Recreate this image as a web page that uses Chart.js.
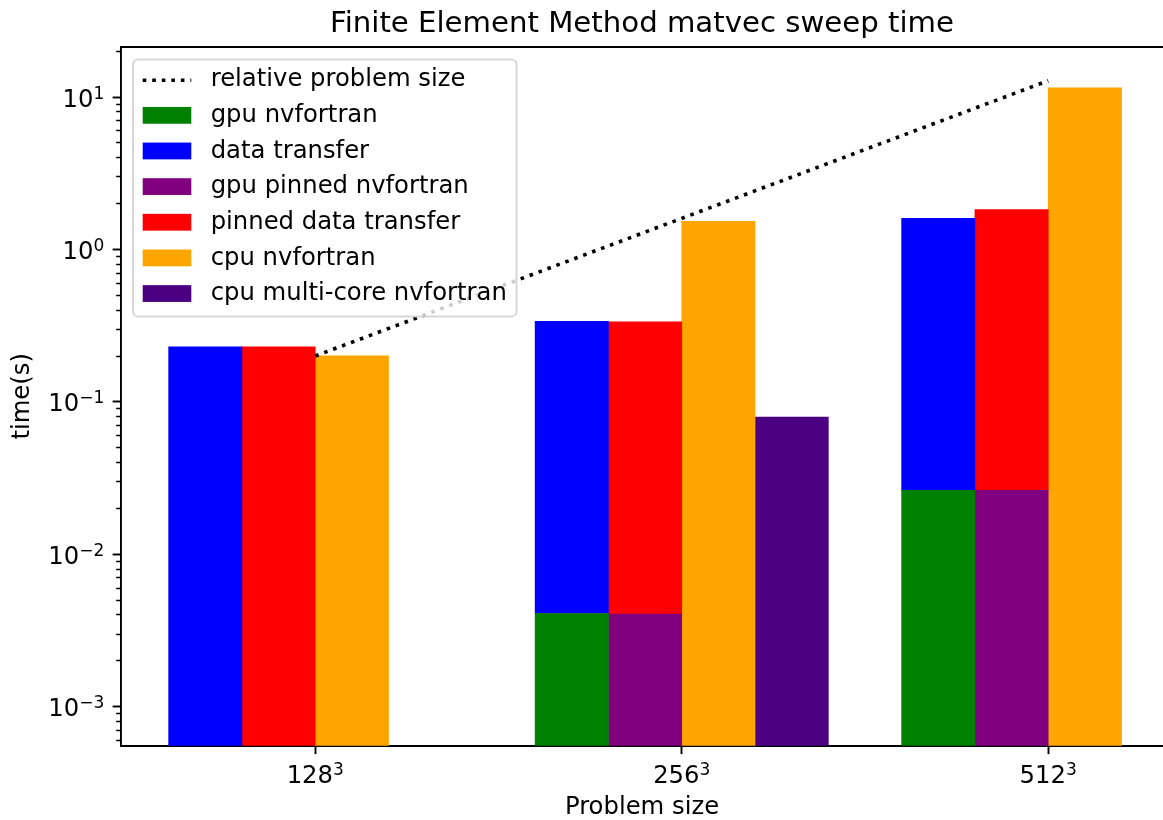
<!DOCTYPE html>
<html>
<head>
<meta charset="utf-8">
<title>FEM matvec sweep time</title>
<script src="https://cdn.jsdelivr.net/npm/chart.js@4.4.1/dist/chart.umd.min.js"></script>
<style>
  html, body { margin: 0; padding: 0; background: #fff; overflow: hidden; }
  canvas { display: block; }
</style>
</head>
<body>
<canvas id="chart" width="1163" height="820"></canvas>
<script>
// problem sizes along x; groups are 5 bar widths apart
const sizeLabels = ['128', '256', '512'];
const sizePowers = ['3', '3', '3'];
const sizePos = [0, 5, 10];

// sweep times in seconds, transfer bars are stacked on the gpu kernel time
const gpuTime = [null, 0.00409, 0.0263];
const transferTime = [0.2295, 0.334, 1.574];
const gpuPinnedTime = [null, 0.00405, 0.0263];
const pinnedTransferTime = [0.2295, 0.331, 1.804];
const cpuTime = [0.2003, 1.53, 11.5];
const cpuMultiCoreTime = [null, 0.0794, null];
const relativeSize = [0.2, 1.6, 12.8];

const yTickValues = [1e-3, 1e-2, 1e-1, 1, 10];
const yTickLabels = ['10', '10', '10', '10', '10'];
const yTickPowers = ['\u22123', '\u22122', '\u22121', '0', '1'];

const yMin = 5.55e-4;
const yMax = 21.3;
const xMin = -2.65;
const xMax = 11.566;

const FONT = 'DejaVu Sans';
const FS = 24.3;
Chart.defaults.font.family = FONT;
Chart.defaults.color = '#000';

function points(values, offset) {
  const out = [];
  values.forEach((v, i) => {
    if (v !== null) out.push({ x: sizePos[i] + offset, y: v });
  });
  return out;
}

// minor ticks 2..9 of every decade
const minorTicks = [];
for (let e = -4; e <= 1; e++) {
  for (let m = 2; m <= 9; m++) {
    const v = m * Math.pow(10, e);
    if (v > yMin && v < yMax) minorTicks.push(v);
  }
}

function bar(label, values, offset, color) {
  return {
    type: 'bar',
    label: label,
    data: points(values, offset),
    backgroundColor: color,
    borderWidth: 0,
    stack: 'all',
    categoryPercentage: 1,
    barPercentage: 1
  };
}

// base with a raised, smaller exponent, like 10^-2
function drawPower(ctx, base, power, x, y, align) {
  const big = FS + 'px "' + FONT + '"';
  const small = (FS * 0.7) + 'px "' + FONT + '"';
  ctx.font = big;
  const wb = ctx.measureText(base).width;
  ctx.font = small;
  const wp = ctx.measureText(power).width;
  let x0 = x;
  if (align === 'center') x0 = x - (wb + wp) / 2;
  if (align === 'right') x0 = x - wb - wp;
  ctx.textAlign = 'left';
  ctx.textBaseline = 'alphabetic';
  ctx.font = big;
  ctx.fillText(base, x0, y);
  ctx.font = small;
  ctx.fillText(power, x0 + wb, y - 7.9);
}

const powerTickLabels = {
  id: 'powerTickLabels',
  afterDraw(chart) {
    const { ctx } = chart;
    const xs = chart.scales.x;
    const ys = chart.scales.y;
    ctx.save();
    ctx.fillStyle = '#000';
    sizePos.forEach((v, i) => {
      drawPower(ctx, sizeLabels[i], sizePowers[i], xs.getPixelForValue(v), xs.top + 36.8, 'center');
    });
    yTickValues.forEach((v, i) => {
      drawPower(ctx, yTickLabels[i], yTickPowers[i], ys.right - 16.8, ys.getPixelForValue(v) + 9.5, 'right');
    });
    ctx.restore();
  }
};

// top spine plus a matplotlib-like legend inside the axes
const frameAndLegend = {
  id: 'frameAndLegend',
  afterDraw(chart) {
    const { ctx, chartArea } = chart;
    ctx.save();
    ctx.strokeStyle = '#000';
    ctx.lineWidth = 1.9;
    ctx.beginPath();
    ctx.moveTo(chartArea.left - 1, chartArea.top);
    ctx.lineTo(chartArea.right, chartArea.top);
    ctx.stroke();

    ctx.font = FS + 'px "' + FONT + '"';
    const sets = chart.data.datasets;
    const textW = Math.max(...sets.map(d => ctx.measureText(d.label).width));
    const pad = 9.7, handleW = 48.6, gap = 19.4, rowH = 35.64;
    const left = chartArea.left + 12;
    const top = chartArea.top + 12.5;
    const width = pad + handleW + gap + textW + pad;
    const height = pad * 2 + rowH * sets.length - 12;

    ctx.beginPath();
    ctx.roundRect(left, top, width, height, 5);
    ctx.fillStyle = 'rgba(255,255,255,0.8)';
    ctx.fill();
    ctx.lineWidth = 2;
    ctx.strokeStyle = 'rgba(204,204,204,0.8)';
    ctx.stroke();

    sets.forEach((d, k) => {
      const cy = top + 20.2 + k * rowH;
      const hx = left + pad;
      if (d.type === 'line') {
        ctx.save();
        ctx.strokeStyle = d.borderColor;
        ctx.lineWidth = d.borderWidth;
        ctx.setLineDash(d.borderDash);
        ctx.beginPath();
        ctx.moveTo(hx, cy + 0.5);
        ctx.lineTo(hx + handleW, cy + 0.5);
        ctx.stroke();
        ctx.restore();
      } else {
        ctx.fillStyle = d.backgroundColor;
        ctx.fillRect(hx, cy - 8.4, handleW, 16.8);
      }
      ctx.fillStyle = '#000';
      ctx.textBaseline = 'alphabetic';
      ctx.textAlign = 'left';
      ctx.fillText(d.label, hx + handleW + gap, cy + 6.6);
    });
    ctx.restore();
  }
};

new Chart(document.getElementById('chart'), {
  type: 'bar',
  data: {
    datasets: [
      {
        type: 'line',
        label: 'relative problem size',
        data: points(relativeSize, 0),
        borderColor: '#000',
        borderWidth: 3.6,
        borderDash: [3.6, 5.94],
        borderCapStyle: 'butt',
        pointRadius: 0,
        fill: false,
        tension: 0
      },
      bar('gpu nvfortran', gpuTime, -1.5, '#008000'),
      bar('data transfer', transferTime, -1.5, '#0000ff'),
      bar('gpu pinned nvfortran', gpuPinnedTime, -0.5, '#800080'),
      bar('pinned data transfer', pinnedTransferTime, -0.5, '#ff0000'),
      bar('cpu nvfortran', cpuTime, 0.5, '#ffa500'),
      bar('cpu multi-core nvfortran', cpuMultiCoreTime, 1.5, '#4b0082')
    ]
  },
  options: {
    responsive: false,
    devicePixelRatio: 1,
    animation: false,
    layout: { padding: 0 },
    plugins: {
      legend: { display: false },
      tooltip: { enabled: false },
      title: {
        display: true,
        fullSize: false,
        text: 'Finite Element Method matvec sweep time',
        color: '#000',
        font: { size: 29.2, weight: 'normal', lineHeight: 1 },
        padding: { top: 10, bottom: 7.8 }
      }
    },
    scales: {
      x: {
        type: 'linear',
        min: xMin,
        max: xMax,
        offset: false,
        stacked: true,
        afterBuildTicks: (scale) => {
          scale.ticks = sizePos.map(v => ({ value: v }));
        },
        afterFit: (scale) => { scale.height = 74.3; },
        ticks: { display: false, autoSkip: false },
        grid: {
          offset: false,
          drawOnChartArea: false,
          tickLength: 8.4,
          tickWidth: 1.9,
          tickColor: '#000'
        },
        border: { display: true, color: '#000', width: 1.9 },
        title: {
          display: true,
          text: 'Problem size',
          font: { size: FS, lineHeight: 1 },
          padding: { top: 0, bottom: 0 }
        }
      },
      y: {
        type: 'logarithmic',
        position: 'left',
        weight: 1,
        min: yMin,
        max: yMax,
        stacked: true,
        afterBuildTicks: (scale) => {
          scale.ticks = yTickValues.map(v => ({ value: v, major: true }));
        },
        afterFit: (scale) => { scale.width = 121; },
        ticks: { display: false, autoSkip: false },
        grid: {
          drawOnChartArea: false,
          tickLength: 8.4,
          tickWidth: 1.9,
          tickColor: '#000'
        },
        border: { display: true, color: '#000', width: 1.9 },
        title: {
          display: true,
          text: 'time(s)',
          font: { size: FS, lineHeight: 1.2 },
          padding: { top: 8 }
        }
      },
      yMinor: {
        type: 'logarithmic',
        position: 'left',
        weight: 0,
        min: yMin,
        max: yMax,
        afterBuildTicks: (scale) => {
          scale.ticks = minorTicks.map(v => ({ value: v }));
        },
        afterFit: (scale) => { scale.width = 0; },
        ticks: { display: false, autoSkip: false },
        grid: {
          drawOnChartArea: false,
          tickLength: 4.8,
          tickWidth: 1.5,
          tickColor: '#000'
        },
        border: { display: false }
      }
    }
  },
  plugins: [powerTickLabels, frameAndLegend]
});
</script>
</body>
</html>
